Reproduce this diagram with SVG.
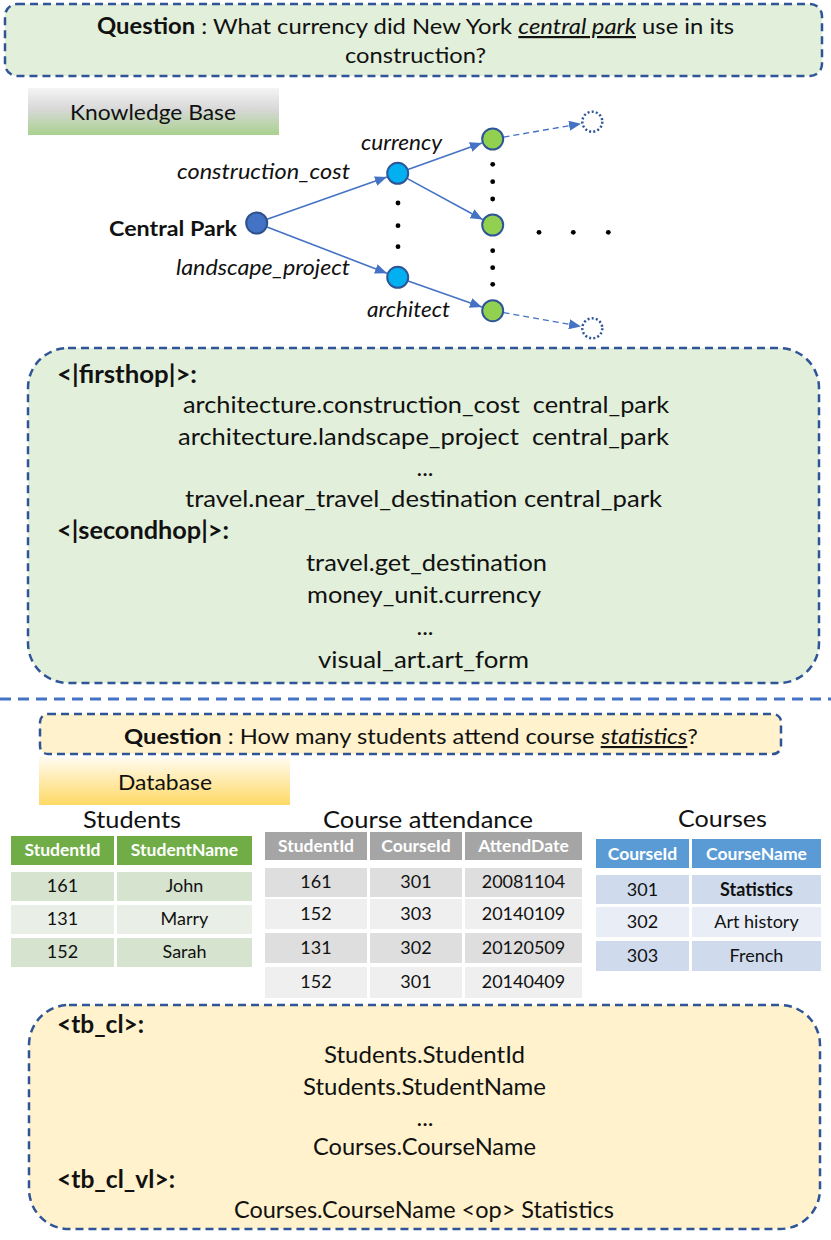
<svg xmlns="http://www.w3.org/2000/svg" width="831" height="1240" viewBox="0 0 831 1240">
<defs>
<style>
text{font-family:Lato,"Open Sans","Liberation Sans",sans-serif;fill:#111}
.box{stroke:#2f5597;stroke-width:2.5;stroke-dasharray:8 5}
.green{fill:#e2efda}
.yellow{fill:#fff2cc}
.b{font-weight:bold}
.i{font-style:italic}
.body{font-size:24px}
.lbl{font-size:21px}
.edge{stroke:#4472c4;stroke-width:1.6;fill:none}
.dedge{stroke:#4472c4;stroke-width:1.4;fill:none;stroke-dasharray:6 4}
.dot{fill:#000}
.cell{font-size:18px;text-anchor:middle}
.hdr{font-size:17.5px;text-anchor:middle;font-weight:bold;fill:#fff}
.title{font-size:24px;text-anchor:middle}
</style>
<marker id="ah" markerWidth="12" markerHeight="10" refX="12" refY="5" orient="auto" markerUnits="userSpaceOnUse">
<path d="M0,0 L12,5 L0,10 z" fill="#4472c4"/>
</marker>
<linearGradient id="kbg" x1="0" y1="0" x2="0" y2="1">
<stop offset="0" stop-color="#f4f4f4"/>
<stop offset="0.45" stop-color="#d8d8d8"/>
<stop offset="1" stop-color="#a9d18e"/>
</linearGradient>
<linearGradient id="dbg" x1="0" y1="0" x2="0" y2="1">
<stop offset="0" stop-color="#fffbf0"/>
<stop offset="1" stop-color="#ffd966"/>
</linearGradient>
</defs>

<g id="question1">
<rect x="5" y="4" width="817" height="72" rx="12" class="box green"/>
<text x="415.5" y="34" font-size="22" text-anchor="middle" textLength="637" lengthAdjust="spacingAndGlyphs"><tspan class="b">Question</tspan> : What currency did New York <tspan class="i" text-decoration="underline">central park</tspan> use in its</text>
<text x="415.5" y="63" font-size="22" text-anchor="middle" textLength="141" lengthAdjust="spacingAndGlyphs">construction?</text>
</g>

<g id="kb-label">
<rect x="28" y="88" width="251" height="47" fill="url(#kbg)"/>
<text x="153" y="120" font-size="21" text-anchor="middle" textLength="166" lengthAdjust="spacingAndGlyphs">Knowledge Base</text>
</g>

<g id="connectors">
<line x1="267.1" y1="219.3" x2="386.9" y2="177.1" class="edge" marker-end="url(#ah)"/>
<line x1="267" y1="227" x2="387" y2="273.2" class="edge" marker-end="url(#ah)"/>
<line x1="408" y1="169.6" x2="481.9" y2="142.9" class="edge" marker-end="url(#ah)"/>
<line x1="407.4" y1="178.6" x2="482.6" y2="219.5" class="edge" marker-end="url(#ah)"/>
<line x1="408.1" y1="281" x2="481.9" y2="306.9" class="edge" marker-end="url(#ah)"/>
<line x1="503.5" y1="137.1" x2="581" y2="123.7" class="dedge" marker-end="url(#ah)"/>
<line x1="503.5" y1="312.6" x2="581" y2="326.4" class="dedge" marker-end="url(#ah)"/>
</g>

<g id="node-central-park">
<circle cx="256.7" cy="223" r="10.5" fill="#4472c4" stroke="#2f528f" stroke-width="2"/>
<text x="109" y="236" class="b lbl" textLength="128" lengthAdjust="spacingAndGlyphs">Central Park</text>
</g>
<g id="node-blue-top">
<circle cx="397.7" cy="173.3" r="10.5" fill="#00b0f0" stroke="#2f5597" stroke-width="2"/>
</g>
<g id="node-blue-bottom">
<circle cx="397.7" cy="277.3" r="10.5" fill="#00b0f0" stroke="#2f5597" stroke-width="2"/>
</g>
<g id="node-green-top">
<circle cx="492.7" cy="139" r="10.5" fill="#92d050" stroke="#2f5597" stroke-width="2"/>
</g>
<g id="node-green-mid">
<circle cx="492.7" cy="225" r="10.5" fill="#92d050" stroke="#2f5597" stroke-width="2"/>
</g>
<g id="node-green-bottom">
<circle cx="492.7" cy="310.7" r="10.5" fill="#92d050" stroke="#2f5597" stroke-width="2"/>
</g>
<g id="node-open-top">
<circle cx="592.3" cy="121.7" r="10" fill="#fff" stroke="#2f5597" stroke-width="2.5" stroke-dasharray="2 2.2"/>
</g>
<g id="node-open-bottom">
<circle cx="592.3" cy="328.3" r="10" fill="#fff" stroke="#2f5597" stroke-width="2.5" stroke-dasharray="2 2.2"/>
</g>

<g id="edge-labels">
<text x="361" y="150" class="i lbl" textLength="81" lengthAdjust="spacingAndGlyphs">currency</text>
<text x="177" y="179" class="i lbl" textLength="173" lengthAdjust="spacingAndGlyphs">construction_cost</text>
<text x="176" y="275" class="i lbl" textLength="174" lengthAdjust="spacingAndGlyphs">landscape_project</text>
<text x="367" y="317" class="i lbl" textLength="83" lengthAdjust="spacingAndGlyphs">architect</text>
</g>

<g id="ellipsis-dots">
<circle cx="398" cy="203" r="2.4" class="dot"/>
<circle cx="398" cy="225.7" r="2.4" class="dot"/>
<circle cx="398" cy="246.7" r="2.4" class="dot"/>
<circle cx="492.7" cy="164.3" r="2.4" class="dot"/>
<circle cx="492.7" cy="181.7" r="2.4" class="dot"/>
<circle cx="492.7" cy="199" r="2.4" class="dot"/>
<circle cx="492.7" cy="250.7" r="2.4" class="dot"/>
<circle cx="492.7" cy="267.7" r="2.4" class="dot"/>
<circle cx="492.7" cy="284.3" r="2.4" class="dot"/>
<circle cx="539" cy="232.3" r="2.4" class="dot"/>
<circle cx="573.3" cy="232.3" r="2.4" class="dot"/>
<circle cx="608.3" cy="232.3" r="2.4" class="dot"/>
</g>

<g id="kb-relations">
<rect x="28" y="348" width="791" height="335" rx="40" class="box green"/>
<text x="57" y="383" class="body b" textLength="140" lengthAdjust="spacingAndGlyphs">&lt;|firsthop|&gt;:</text>
<text x="426" y="413" class="body" text-anchor="middle" textLength="486" lengthAdjust="spacingAndGlyphs">architecture.construction_cost&#160; central_park</text>
<text x="423.5" y="445" class="body" text-anchor="middle" textLength="491" lengthAdjust="spacingAndGlyphs">architecture.landscape_project&#160; central_park</text>
<text x="425" y="476" class="body" text-anchor="middle">...</text>
<text x="423.5" y="507" class="body" text-anchor="middle" textLength="477" lengthAdjust="spacingAndGlyphs">travel.near_travel_destination central_park</text>
<text x="57" y="539" class="body b" textLength="172" lengthAdjust="spacingAndGlyphs">&lt;|secondhop|&gt;:</text>
<text x="426.5" y="571" class="body" text-anchor="middle" textLength="241" lengthAdjust="spacingAndGlyphs">travel.get_destination</text>
<text x="424" y="603" class="body" text-anchor="middle" textLength="234" lengthAdjust="spacingAndGlyphs">money_unit.currency</text>
<text x="425" y="635" class="body" text-anchor="middle">...</text>
<text x="423.5" y="668" class="body" text-anchor="middle" textLength="211" lengthAdjust="spacingAndGlyphs">visual_art.art_form</text>
</g>

<line x1="0" y1="699" x2="831" y2="699" stroke="#4472c4" stroke-width="3" stroke-dasharray="11 7"/>

<g id="question2">
<rect x="40" y="714" width="741" height="40" rx="8" class="box yellow"/>
<text x="411" y="744" font-size="21" text-anchor="middle" textLength="574" lengthAdjust="spacingAndGlyphs"><tspan class="b">Question</tspan> : How many students attend course <tspan class="i" text-decoration="underline">statistics</tspan>?</text>
</g>

<g id="db-label">
<rect x="39" y="757" width="251" height="48" fill="url(#dbg)"/>
<text x="165" y="790" font-size="21" text-anchor="middle" textLength="94" lengthAdjust="spacingAndGlyphs">Database</text>
</g>

<g id="table-students">
<text x="132" y="828" class="title" textLength="98" lengthAdjust="spacingAndGlyphs">Students</text>
<rect x="11" y="836" width="103" height="29" fill="#70ad47"/>
<rect x="117" y="836" width="135" height="29" fill="#70ad47"/>
<rect x="11" y="872" width="103" height="29" fill="#d6e3cf"/>
<rect x="117" y="872" width="135" height="29" fill="#d6e3cf"/>
<rect x="11" y="905" width="103" height="29" fill="#e9efe6"/>
<rect x="117" y="905" width="135" height="29" fill="#e9efe6"/>
<rect x="11" y="938" width="103" height="29" fill="#d6e3cf"/>
<rect x="117" y="938" width="135" height="29" fill="#d6e3cf"/>
<text x="62.5" y="856" class="hdr">StudentId</text>
<text x="184.5" y="856" class="hdr">StudentName</text>
<text x="62.5" y="892" class="cell">161</text>
<text x="184.5" y="892" class="cell">John</text>
<text x="62.5" y="925" class="cell">131</text>
<text x="184.5" y="925" class="cell">Marry</text>
<text x="62.5" y="958" class="cell">152</text>
<text x="184.5" y="958" class="cell">Sarah</text>
</g>

<g id="table-attendance">
<text x="428" y="828" class="title" textLength="210" lengthAdjust="spacingAndGlyphs">Course attendance</text>
<rect x="265" y="832" width="102" height="28" fill="#a5a5a5"/>
<rect x="370" y="832" width="92" height="28" fill="#a5a5a5"/>
<rect x="465" y="832" width="117" height="28" fill="#a5a5a5"/>
<rect x="265" y="868" width="102" height="29" fill="#dedede"/>
<rect x="370" y="868" width="92" height="29" fill="#dedede"/>
<rect x="465" y="868" width="117" height="29" fill="#dedede"/>
<rect x="265" y="899" width="102" height="30" fill="#efefef"/>
<rect x="370" y="899" width="92" height="30" fill="#efefef"/>
<rect x="465" y="899" width="117" height="30" fill="#efefef"/>
<rect x="265" y="933" width="102" height="30" fill="#dedede"/>
<rect x="370" y="933" width="92" height="30" fill="#dedede"/>
<rect x="465" y="933" width="117" height="30" fill="#dedede"/>
<rect x="265" y="967" width="102" height="31" fill="#efefef"/>
<rect x="370" y="967" width="92" height="31" fill="#efefef"/>
<rect x="465" y="967" width="117" height="31" fill="#efefef"/>
<text x="316" y="852" class="hdr">StudentId</text>
<text x="416" y="852" class="hdr">CourseId</text>
<text x="523.5" y="852" class="hdr">AttendDate</text>
<text x="316" y="888" class="cell">161</text>
<text x="416" y="888" class="cell">301</text>
<text x="523.5" y="888" class="cell">20081104</text>
<text x="316" y="920" class="cell">152</text>
<text x="416" y="920" class="cell">303</text>
<text x="523.5" y="920" class="cell">20140109</text>
<text x="316" y="954" class="cell">131</text>
<text x="416" y="954" class="cell">302</text>
<text x="523.5" y="954" class="cell">20120509</text>
<text x="316" y="988" class="cell">152</text>
<text x="416" y="988" class="cell">301</text>
<text x="523.5" y="988" class="cell">20140409</text>
</g>

<g id="table-courses">
<text x="722.5" y="827" class="title" textLength="89" lengthAdjust="spacingAndGlyphs">Courses</text>
<rect x="596" y="839" width="93" height="29" fill="#5b9bd5"/>
<rect x="692" y="839" width="129" height="29" fill="#5b9bd5"/>
<rect x="596" y="875" width="93" height="29" fill="#cfdbed"/>
<rect x="692" y="875" width="129" height="29" fill="#cfdbed"/>
<rect x="596" y="907" width="93" height="30" fill="#e8edf6"/>
<rect x="692" y="907" width="129" height="30" fill="#e8edf6"/>
<rect x="596" y="941" width="93" height="30" fill="#cfdbed"/>
<rect x="692" y="941" width="129" height="30" fill="#cfdbed"/>
<text x="642.5" y="859.5" class="hdr">CourseId</text>
<text x="756.5" y="859.5" class="hdr">CourseName</text>
<text x="642.5" y="895.5" class="cell">301</text>
<text x="756.5" y="895.5" class="cell b">Statistics</text>
<text x="642.5" y="928" class="cell">302</text>
<text x="756.5" y="928" class="cell">Art history</text>
<text x="642.5" y="962" class="cell">303</text>
<text x="756.5" y="962" class="cell">French</text>
</g>

<g id="db-relations">
<rect x="29" y="1005" width="791" height="224" rx="40" class="box yellow"/>
<text x="57" y="1033" class="body b" textLength="87" lengthAdjust="spacingAndGlyphs">&lt;tb_cl&gt;:</text>
<text x="424.5" y="1063" class="body" text-anchor="middle" textLength="201" lengthAdjust="spacingAndGlyphs">Students.StudentId</text>
<text x="424.5" y="1095" class="body" text-anchor="middle" textLength="243" lengthAdjust="spacingAndGlyphs">Students.StudentName</text>
<text x="425" y="1126" class="body" text-anchor="middle">...</text>
<text x="424.5" y="1155" class="body" text-anchor="middle" textLength="223" lengthAdjust="spacingAndGlyphs">Courses.CourseName</text>
<text x="57" y="1188" class="body b" textLength="118" lengthAdjust="spacingAndGlyphs">&lt;tb_cl_vl&gt;:</text>
<text x="424" y="1218" class="body" text-anchor="middle" textLength="380" lengthAdjust="spacingAndGlyphs">Courses.CourseName &lt;op&gt; Statistics</text>
</g>
</svg>
